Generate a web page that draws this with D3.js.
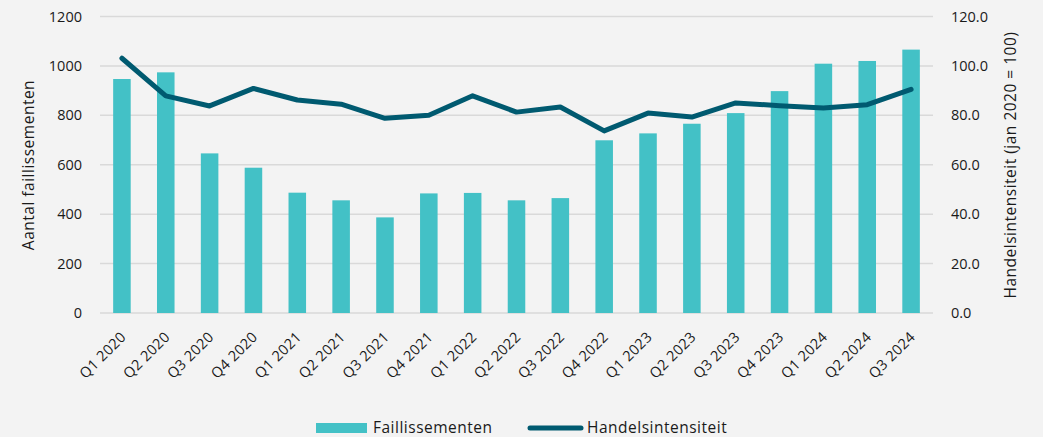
<!DOCTYPE html>
<html><head><meta charset="utf-8">
<script src="https://cdn.jsdelivr.net/npm/d3@7"></script>
<style>
html,body{margin:0;padding:0;background:#f3f3f3;}
svg{display:block;font-family:"Open Sans",sans-serif;}
</style></head><body>
<svg id="c" width="1043" height="437"></svg>
<script>
const categories = ["Q1 2020","Q2 2020","Q3 2020","Q4 2020","Q1 2021","Q2 2021","Q3 2021","Q4 2021","Q1 2022","Q2 2022","Q3 2022","Q4 2022","Q1 2023","Q2 2023","Q3 2023","Q4 2023","Q1 2024","Q2 2024","Q3 2024"];
const faillissementen = [947,974,646,588,487,456,387,484,486,456,465,699,727,766,809,898,1009,1020,1066];
const handelsintensiteit = [103.1,87.9,83.8,90.9,86.2,84.5,78.8,80.0,87.9,81.3,83.4,73.7,80.9,79.3,85.0,83.9,83.0,84.3,90.5];
const leftTicks = [0,200,400,600,800,1000,1200];
const rightTicks = [0,20,40,60,80,100,120];

const svg = d3.select("#c");
const x0 = 100, x1 = 933, yTop = 16.5, yBot = 313;
const x = d3.scaleBand().domain(categories).range([x0, x1]).paddingInner(0.6).paddingOuter(0.3);
const yL = d3.scaleLinear().domain([0,1200]).range([yBot, yTop]);
const yR = d3.scaleLinear().domain([0,120]).range([yBot, yTop]);
const txt = "#1a1a1a";

// gridlines
svg.append("g").selectAll("line").data(leftTicks).join("line")
  .attr("x1", x0).attr("x2", x1)
  .attr("y1", d => yL(d)).attr("y2", d => yL(d))
  .attr("stroke", "#d9d9d9").attr("stroke-width", 1.5);

// bars
svg.append("g").selectAll("rect").data(faillissementen).join("rect")
  .attr("x", (d,i) => x(categories[i]))
  .attr("width", x.bandwidth())
  .attr("y", d => yL(d))
  .attr("height", d => yBot - yL(d))
  .attr("fill", "#43c1c6");

// line
const line = d3.line()
  .x((d,i) => x(categories[i]) + x.bandwidth()/2)
  .y(d => yR(d));
svg.append("path").datum(handelsintensiteit)
  .attr("d", line).attr("fill","none")
  .attr("stroke","#005a70").attr("stroke-width",5)
  .attr("stroke-linejoin","round").attr("stroke-linecap","round");

// left axis
const axL = d3.axisLeft(yL).tickValues(leftTicks).tickSize(0).tickPadding(0).tickFormat(d3.format("d"));
const gL = svg.append("g").attr("transform", `translate(82,0)`).call(axL);
gL.select(".domain").remove();
gL.selectAll("text").attr("font-size",14.5).attr("fill",txt).attr("font-family","Open Sans");

// right axis
const axR = d3.axisRight(yR).tickValues(rightTicks).tickSize(0).tickPadding(0).tickFormat(d3.format(".1f"));
const gR = svg.append("g").attr("transform", `translate(951,0)`).call(axR);
gR.select(".domain").remove();
gR.selectAll("text").attr("font-size",14.5).attr("fill",txt).attr("font-family","Open Sans");

// bottom axis
const axB = d3.axisBottom(x).tickSize(0).tickPadding(0);
const gB = svg.append("g").attr("transform", `translate(0,${yBot})`).call(axB);
gB.select(".domain").remove();
gB.selectAll("text")
  .attr("font-size",14.5).attr("fill",txt).attr("font-family","Open Sans")
  .attr("letter-spacing",0.3)
  .attr("text-anchor","end").attr("dy",null).attr("y",0)
  .attr("transform","translate(5,25) rotate(-45)");

// axis titles
svg.append("text").attr("transform","translate(34,165) rotate(-90)")
  .attr("text-anchor","middle").attr("font-size",15.5).attr("letter-spacing",0.5).attr("fill",txt)
  .text("Aantal faillissementen");
svg.append("text").attr("transform","translate(1016,165) rotate(-90)")
  .attr("text-anchor","middle").attr("font-size",15.5).attr("letter-spacing",0.5).attr("fill",txt)
  .text("Handelsintensiteit (jan 2020 = 100)");

// legend
const lg = svg.append("g");
lg.append("rect").attr("x",316).attr("y",423).attr("width",51).attr("height",10).attr("fill","#43c1c6");
lg.append("text").attr("x",373).attr("y",433).attr("font-size",15.5).attr("letter-spacing",0.5).attr("fill",txt).text("Faillissementen");
lg.append("line").attr("x1",530).attr("x2",581).attr("y1",428).attr("y2",428)
  .attr("stroke","#005a70").attr("stroke-width",5).attr("stroke-linecap","round");
lg.append("text").attr("x",587).attr("y",433).attr("font-size",15.5).attr("letter-spacing",0.5).attr("fill",txt).text("Handelsintensiteit");
</script>
</body></html>
